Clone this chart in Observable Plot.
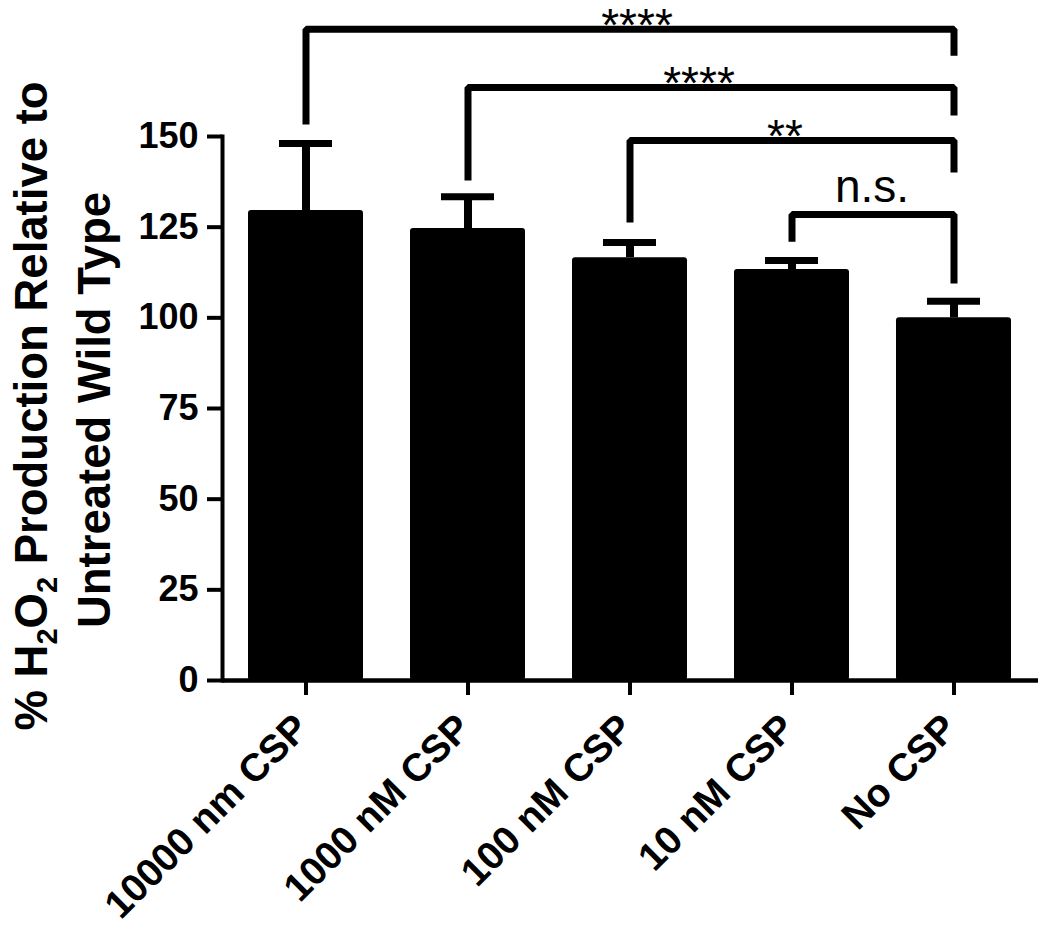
<!DOCTYPE html>
<html>
<head>
<meta charset="utf-8">
<script src="https://cdn.jsdelivr.net/npm/d3@7"></script>
<script src="https://cdn.jsdelivr.net/npm/@observablehq/plot@0.6"></script>
<style>
  html, body { margin: 0; padding: 0; background: #fff; }
</style>
</head>
<body>
<div id="chart"></div>
<script>
// ---- data ----
const categories = ["10000 nm CSP", "1000 nM CSP", "100 nM CSP", "10 nM CSP", "No CSP"];
const means = [129.6, 124.6, 116.6, 113.3, 100.0];
const errors = [18.5, 8.8, 4.2, 2.5, 4.6];
const yTicks = [0, 25, 50, 75, 100, 125, 150];

// significance brackets: from category -> "No CSP"
const bracketFrom = ["10000 nm CSP", "1000 nM CSP", "100 nM CSP", "10 nM CSP"];
const bracketTo = ["No CSP", "No CSP", "No CSP", "No CSP"];
const bracketTop = [179.6, 163.5, 148.9, 128.5];
const bracketLeftEnd = [153.3, 137.9, 126.3, 121.0];
const bracketRightEnd = [172.3, 155.8, 140.1, 109.5];
const bracketLabels = ["****", "****", "**", "n.s."];
const labelAnchorCat = ["100 nM CSP", "100 nM CSP", "10 nM CSP", "10 nM CSP"];
const labelDx = [7, 69, -7, 80];
const labelDy = [-3, -3, -3, -27];

const bars = categories.map((c, i) => ({cat: c, mean: means[i], err: errors[i]}));
const bracketPts = [];
bracketFrom.forEach((f, i) => {
  bracketPts.push({b: i, cat: f, y: bracketLeftEnd[i]});
  bracketPts.push({b: i, cat: f, y: bracketTop[i]});
  bracketPts.push({b: i, cat: bracketTo[i], y: bracketTop[i]});
  bracketPts.push({b: i, cat: bracketTo[i], y: bracketRightEnd[i]});
});
const bracketText = bracketLabels.map((t, i) => ({t, cat: labelAnchorCat[i], y: bracketTop[i], dx: labelDx[i], dy: labelDy[i]}));

const chart = Plot.plot({
  width: 1050,
  height: 928,
  marginLeft: 222,
  marginRight: 12,
  marginTop: 136,
  marginBottom: 248,
  x: {domain: categories, type: "band", paddingInner: 0.29, paddingOuter: 0.15},
  y: {domain: [0, 150]},
  style: {fontFamily: "'Liberation Sans', Arial, sans-serif", fontWeight: "bold", background: "white", color: "black"},
  marks: [
    Plot.barY(bars, {x: "cat", y: "mean", fill: "black", rx: 3}),
    Plot.ruleX(bars, {x: "cat", y1: "mean", y2: d => d.mean + d.err, stroke: "black", strokeWidth: 8}),
    Plot.tickY(bars, {x: "cat", y: d => d.mean + d.err, stroke: "black", strokeWidth: 7, insetLeft: 31, insetRight: 31}),
    Plot.line(bracketPts, {x: "cat", y: "y", z: "b", stroke: "black", strokeWidth: 7, strokeLinejoin: "miter", strokeLinecap: "butt", curve: "linear"}),
    ...bracketText.map(d => Plot.text([d], {x: "cat", y: "y", text: "t", dx: d.dx, dy: d.dy, fontSize: 46, fontWeight: "normal", textAnchor: "middle", lineAnchor: "middle", fill: "black"})),
    Plot.ruleY([0], {stroke: "black", strokeWidth: 4.5}),
    Plot.frame({anchor: "left", stroke: "black", strokeWidth: 4}),
    Plot.axisY({ticks: yTicks, tickSize: 15, tickPadding: 9, strokeWidth: 4, fontSize: 36, fontWeight: "bold", label: null, tickFormat: d => String(d)}),
    Plot.axisX({tickSize: 15, strokeWidth: 4, tickFormat: () => "", label: null}),
    Plot.text(categories, {x: d => d, frameAnchor: "bottom", text: d => d, rotate: -45, textAnchor: "end", lineAnchor: "middle", dx: -4, dy: 41, fontSize: 39, fontWeight: "bold", fill: "black"})
  ]
});

// y-axis title with real subscripts
const svg = d3.select(chart);
const t1 = svg.append("text")
  .attr("transform", "translate(47,406) rotate(-90)")
  .attr("text-anchor", "middle")
  .attr("font-size", 45.5)
  .attr("font-weight", "bold")
  .attr("fill", "black");
t1.append("tspan").text("% H");
t1.append("tspan").attr("font-size", 29).attr("dy", 10).text("2");
t1.append("tspan").attr("dy", -10).text("O");
t1.append("tspan").attr("font-size", 29).attr("dy", 10).text("2");
t1.append("tspan").attr("dy", -10).text(" Production Relative to");
svg.append("text")
  .attr("transform", "translate(110,410) rotate(-90)")
  .attr("text-anchor", "middle")
  .attr("font-size", 45.5)
  .attr("font-weight", "bold")
  .attr("fill", "black")
  .text("Untreated Wild Type");

document.getElementById("chart").appendChild(chart);
</script>
</body>
</html>
